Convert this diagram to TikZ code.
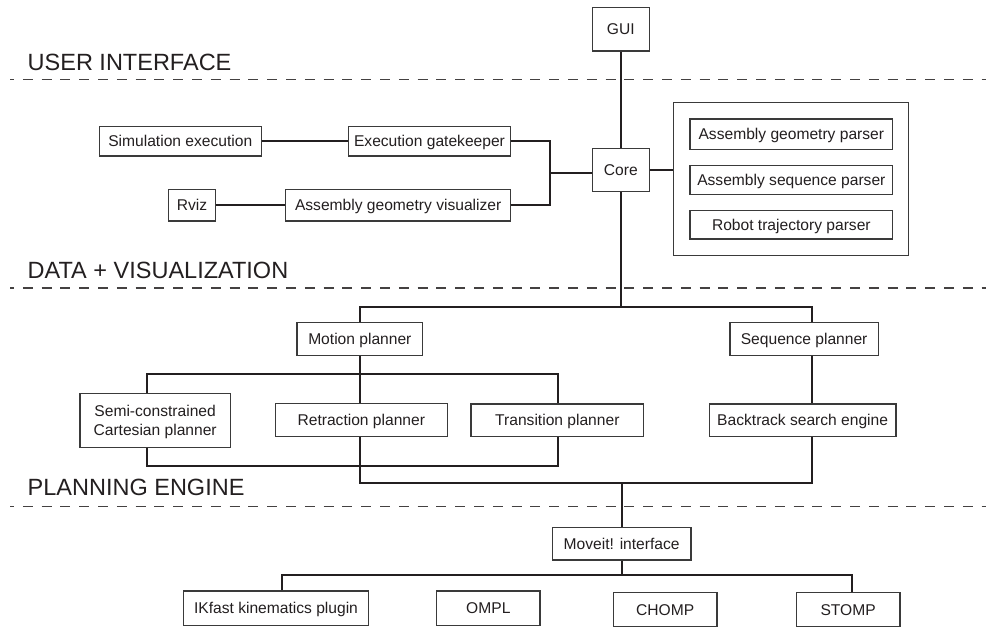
\documentclass[tikz,border=0pt]{standalone}
\usepackage{fontspec}
\setmainfont{Liberation Sans}
\begin{document}
\definecolor{ink}{HTML}{231F20}
\definecolor{frame}{HTML}{3A3A3A}
\begin{tikzpicture}[x=1pt,y=-1pt,
  every node/.style={text=ink},
  blk/.style={draw=frame,line width=1.1pt,inner sep=0pt,align=center,
    text height=11.2pt,text depth=0pt,
    font=\fontsize{15.6}{18.6}\selectfont},
  conn/.style={draw=ink,line width=1.7pt},
  sep/.style={draw=ink!85,line width=1.1pt,dash pattern=on 10pt off 8.8pt,dash phase=6pt},
  hdr/.style={anchor=base west,inner sep=0pt,font=\fontsize{23.5}{28}\selectfont}]
\useasboundingbox (0,0) rectangle (989,628);
\fill[white] (0,0) rectangle (989,628);

% layer separators and headings
\coordinate (s1a) at (10,79.3);   \coordinate (s1b) at (986,79.3);
\coordinate (s2a) at (10,288);    \coordinate (s2b) at (986,288);
\coordinate (s3a) at (10,506.7);  \coordinate (s3b) at (986,506.7);
\draw[sep] (s1a) -- (s1b);
\draw[sep] (s2a) -- (s2b);
\draw[sep] (s3a) -- (s3b);
\node[hdr] (hUI) at (27.5,71) {USER INTERFACE};
\node[hdr] (hDV) at (27.5,278.3) {DATA + VISUALIZATION};
\node[hdr] (hPE) at (27.5,495.7) {PLANNING ENGINE};

% user interface and data layer
\node[blk,minimum width=57pt,minimum height=43.7pt] (gui) at (620.8,29.15) {GUI};
\node[blk,minimum width=57pt,minimum height=43.4pt] (core) at (620.8,170) {Core};
\node[blk,minimum width=162pt,minimum height=29.3pt] (sim) at (180.3,141.35) {Simulation execution};
\node[blk,minimum width=162.4pt,minimum height=29.3pt] (gate) at (429.5,141.35) {Execution gatekeeper};
\node[blk,minimum width=46.6pt,minimum height=31.3pt] (rviz) at (192,205.35) {Rviz};
\node[blk,minimum width=225pt,minimum height=31.3pt] (agv) at (398.2,205.35) {Assembly geometry visualizer};
\node[blk,minimum width=235pt,minimum height=152.6pt] (parsers) at (791.2,179) {};
\node[blk,minimum width=202.7pt,minimum height=30.3pt] (agp) at (791.35,134.15) {Assembly geometry parser};
\node[blk,minimum width=202.7pt,minimum height=29pt] (asp) at (791.35,179.8) {Assembly sequence parser};
\node[blk,minimum width=202.7pt,minimum height=28.3pt] (rtp) at (791.35,224.85) {Robot trajectory parser};

% planning layer
\node[blk,minimum width=125.7pt,minimum height=33pt] (motion) at (359.85,338.8) {Motion planner};
\node[blk,minimum width=148.3pt,minimum height=32.6pt] (seq) at (804.15,339) {Sequence planner};
\node[blk,minimum width=150.3pt,minimum height=54pt,text height=29.8pt] (semi) at (155.15,420.3) {Semi-constrained\\Cartesian planner};
\node[blk,minimum width=172pt,minimum height=32.6pt] (retr) at (361.3,420) {Retraction planner};
\node[blk,minimum width=172.7pt,minimum height=32.7pt] (trans) at (557.35,420.35) {Transition planner};
\node[blk,minimum width=186.7pt,minimum height=32.7pt] (back) at (802.65,420.35) {Backtrack search engine};

% motion planning back ends
\node[blk,minimum width=138.7pt,minimum height=32.7pt] (moveit) at (621.65,543.65) {Moveit! interface};
\node[blk,minimum width=184.6pt,minimum height=34.7pt] (ikfast) at (276,608.35) {IKfast kinematics plugin};
\node[blk,minimum width=103.3pt,minimum height=34.7pt] (ompl) at (488.35,608.35) {OMPL};
\node[blk,minimum width=103.7pt,minimum height=34.4pt] (chomp) at (665.15,609.5) {CHOMP};
\node[blk,minimum width=103.7pt,minimum height=34.4pt] (stomp) at (848.15,609.5) {STOMP};

% bus junctions
\coordinate (j1) at (550,173);
\coordinate (t1L) at (360,306.7);
\coordinate (t1R) at (811.7,306.7);
\coordinate (t2L) at (147,374);
\coordinate (t2R) at (557.7,374);
\coordinate (t3L) at (147,466);
\coordinate (t3R) at (557.7,466);
\coordinate (t4L) at (360,483.3);
\coordinate (t4R) at (811.7,483.3);
\coordinate (t5L) at (281.7,575);
\coordinate (t5R) at (851.7,575);

% connectors
\draw[conn] (gui) -- (core);
\draw[conn] (sim) -- (gate);
\draw[conn] (rviz) -- (agv);
\draw[conn] (gate.east) -| (j1) |- (agv.east);
\draw[conn] (j1) -- (j1 -| core.west);
\draw[conn] (core.east) -- (core.east -| parsers.west);
\draw[conn] (core.south) -- (core.south |- t1L);
\draw[conn] (t1L |- motion.north) -- (t1L) -- (t1R) -- (t1R |- seq.north);
\draw[conn] (t1R |- seq.south) -- (t1R |- back.north);
\draw[conn] (t1L |- motion.south) -- (t1L |- retr.north);
\draw[conn] (t2L |- semi.north) -- (t2L) -- (t2R) -- (t2R |- trans.north);
\draw[conn] (t3L |- semi.south) -- (t3L) -- (t3R) -- (t3R |- trans.south);
\draw[conn] (t4L |- retr.south) -- (t4L) -- (t4R) -- (t4R |- back.south);
\draw[conn] (moveit.north |- t4L) -- (moveit.north);
\draw[conn] (moveit.south) -- (moveit.south |- t5L);
\draw[conn] (t5L |- ikfast.north) -- (t5L) -- (t5R) -- (t5R |- stomp.north);
\end{tikzpicture}
\end{document}
